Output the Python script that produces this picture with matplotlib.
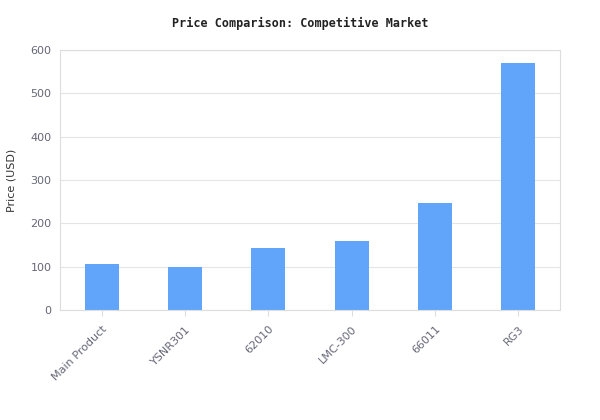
import matplotlib
matplotlib.use("Agg")
import matplotlib.pyplot as plt

categories = ["Main Product", "YSNR301", "62010", "LMC-300", "66011", "RG3"]
prices = [106, 99, 143, 159, 247, 570]

fig = plt.figure(figsize=(6, 4.2), dpi=100)
ax = fig.add_axes([0.1, 0.262, 0.8333, 0.619])
x = range(len(categories))
ax.bar(x, prices, width=0.41, color="#60a5fa", zorder=2)
ax.set_xlim(-0.5, len(categories) - 0.5)
ax.set_ylim(0, 600)
ax.set_yticks(range(0, 601, 100))
ax.set_xticks(list(x))
ax.set_xticklabels(categories, rotation=45, ha="right", rotation_mode="anchor")
ax.grid(axis="y", color="#e5e5e5", linewidth=0.8, zorder=0)
for s in ax.spines.values():
    s.set_color("#dddddd")
ax.tick_params(colors="#666677", labelsize=8, length=0, pad=6)
ax.tick_params(axis="x", length=4, color="#dddddd")
ax.set_ylabel("Price (USD)", fontsize=8, color="#333333", labelpad=10)
fig.suptitle("Price Comparison: Competitive Market", y=0.96, fontsize=8.5,
             fontweight="bold", family="DejaVu Sans Mono", color="#222222")
fig.savefig("out.png", dpi=100)
